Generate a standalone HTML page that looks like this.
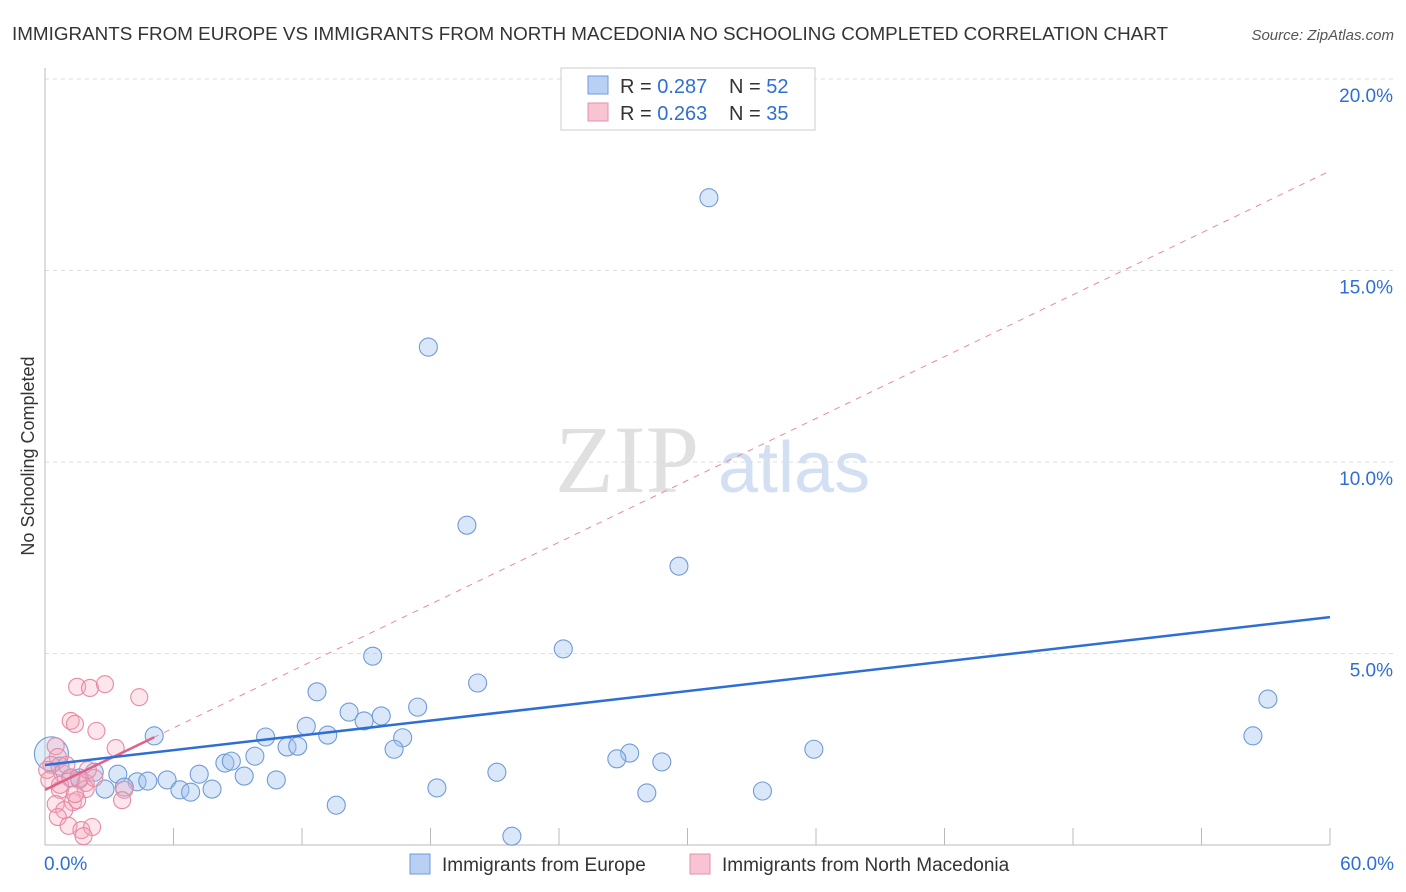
<!DOCTYPE html>
<html><head><meta charset="utf-8"><style>
body{margin:0;background:#fff;font-family:"Liberation Sans",sans-serif;}
svg{display:block}
</style></head><body>
<svg width="1406" height="892" xmlns="http://www.w3.org/2000/svg">
<text x="12" y="40" font-size="18" textLength="1156" lengthAdjust="spacingAndGlyphs" fill="#333">IMMIGRANTS FROM EUROPE VS IMMIGRANTS FROM NORTH MACEDONIA NO SCHOOLING COMPLETED CORRELATION CHART</text>
<text x="1394" y="40" font-size="15" fill="#555" font-style="italic" text-anchor="end">Source: ZipAtlas.com</text>
<text x="555" y="492" font-size="96" fill="#e0e0e0" font-family="Liberation Serif,serif">ZIP</text>
<text x="718" y="492" font-size="72" fill="#d3e0f3">atlas</text>
<g id="grid"></g>
<g id="axes"></g>
<g id="marks"></g>
<text transform="translate(34,456) rotate(-90)" font-size="18" fill="#333" text-anchor="middle">No Schooling Completed</text>
<g>
<rect x="561" y="68" width="254" height="62" fill="#fff" stroke="#ccc"/>
<rect x="588" y="76" width="20" height="18" fill="#b8d0f3" stroke="#6f9bd8"/>
<text x="620" y="93" font-size="20" fill="#333">R = <tspan fill="#2e6fd6">0.287</tspan></text>
<text x="729" y="93" font-size="20" fill="#333">N = <tspan fill="#2e6fd6">52</tspan></text>
<rect x="588" y="103" width="20" height="18" fill="#f8c3d2" stroke="#e591aa"/>
<text x="620" y="120" font-size="20" fill="#333">R = <tspan fill="#2e6fd6">0.263</tspan></text>
<text x="729" y="120" font-size="20" fill="#333">N = <tspan fill="#2e6fd6">35</tspan></text>
</g>
<g>
<rect x="410" y="854" width="20" height="20" fill="#b8d0f3" stroke="#6f9bd8"/>
<text x="442" y="871" font-size="19" fill="#333">Immigrants from Europe</text>
<rect x="690" y="854" width="20" height="20" fill="#f8c3d2" stroke="#e591aa"/>
<text x="722" y="871" font-size="19" fill="#333">Immigrants from North Macedonia</text>
</g>
</svg>
<script>
const yTicks=[5,10,15,20];
const xTickLabels=["0.0%","60.0%"];
const europeX=[31.0,17.9,19.7,29.6,24.2,15.3,20.2,12.7,57.1,17.4,14.2,12.2,14.9,15.7,5.1,10.3,13.2,16.7,56.4,11.3,11.8,16.3,35.9,27.3,26.7,28.8,9.8,8.4,8.7,21.1,7.2,9.3,3.4,10.8,5.7,4.3,4.8,2.3,1.6,6.3,6.8,7.8,18.3,28.1,33.5,2.8,3.7,13.6,21.8,0.3,0.7,1.2];
const europeY=[16.9,13.0,8.35,7.28,5.12,4.93,4.23,4.0,3.81,3.6,3.47,3.1,3.24,3.37,2.85,2.82,2.87,2.8,2.85,2.56,2.58,2.5,2.5,2.4,2.25,2.17,2.32,2.14,2.19,1.9,1.85,1.8,1.85,1.7,1.7,1.65,1.67,1.9,1.75,1.44,1.38,1.46,1.49,1.36,1.41,1.46,1.51,1.04,0.23,2.38,2.06,1.75];
const macX=[1.5,2.1,2.8,4.4,1.2,1.4,2.4,3.3,0.5,0.6,0.3,0.8,1.2,1.9,0.7,1.9,3.7,3.6,0.5,1.3,1.5,0.9,0.6,1.1,1.7,2.2,1.8,0.1,1.0,1.6,0.2,0.7,2.3,1.4,2.0];
const macY=[4.13,4.1,4.2,3.86,3.24,3.16,2.98,2.53,2.58,2.3,2.09,1.88,1.75,1.62,1.44,1.46,1.44,1.17,1.07,1.12,1.17,0.91,0.73,0.5,0.39,0.47,0.23,1.96,2.09,1.7,1.7,1.57,1.75,1.33,1.96];
const europeTrend=[2.09,5.95];
const macTrend=[1.44,17.6];
const macSolidEnd=5.1;
const NS="http://www.w3.org/2000/svg";
const X=v=>45+v*1285/60, Y=v=>845-v*38.3;
function mk(t,a,p){const e=document.createElementNS(NS,t);for(const k in a)e.setAttribute(k,a[k]);p.appendChild(e);return e;}
const grid=document.getElementById('grid'),axes=document.getElementById('axes'),marks=document.getElementById('marks');
yTicks.forEach(t=>{
 const l=mk('line',{x1:45,x2:1394,y1:Y(t),y2:Y(t),stroke:'#ddd','stroke-dasharray':'4,4'},grid);
 
 
 const tx=mk('text',{x:1393,y:Y(t)+23,'font-size':19,fill:'#2e6fd6','text-anchor':'end'},axes);
 tx.textContent=t.toFixed(1)+'%';
 
 
});
let a=mk('line',{x1:45,x2:45,y1:68,y2:845,stroke:'#bbb'},axes);


a=mk('line',{x1:45,x2:1330,y1:845,y2:845,stroke:'#bbb'},axes);


for(let i=0;i<=10;i++){const t=mk('line',{x1:X(i*6),x2:X(i*6),y1:828,y2:845,stroke:'#bbb'},axes);
 
 }
[[0,'start',44],[60,'end',1394]].forEach((d,i)=>{const t=mk('text',{x:d[2],y:870,'font-size':19,fill:'#2e6fd6','text-anchor':d[1]},axes);t.textContent=xTickLabels[i];
 
 });
europeX.forEach((x,i)=>{const c=mk('circle',{cx:X(x),cy:Y(europeY[i]),r:i==49?17:9,fill:i==49?'rgba(160,195,240,0.3)':'rgba(160,195,240,0.4)',stroke:'#6f9bd8','stroke-width':1.1},marks);
 
 });
macX.forEach((x,i)=>{const c=mk('circle',{cx:X(x),cy:Y(macY[i]),r:8.5,fill:'rgba(245,170,190,0.3)',stroke:'#e68aa5','stroke-width':1.1},marks);
 
 });
let l=mk('line',{x1:X(0),y1:Y(macTrend[0]),x2:X(60),y2:Y(macTrend[1]),stroke:'#e68aa5','stroke-dasharray':'6,6','stroke-width':1},marks);


const ms=macTrend[0]+(macTrend[1]-macTrend[0])*macSolidEnd/60;
l=mk('line',{x1:X(0),y1:Y(macTrend[0]),x2:X(macSolidEnd),y2:Y(ms),stroke:'#e0608a','stroke-width':2.5},marks);


l=mk('line',{x1:X(0),y1:Y(europeTrend[0]),x2:X(60),y2:Y(europeTrend[1]),stroke:'#2e6fd6','stroke-width':2.5},marks);


</script>
</body></html>
